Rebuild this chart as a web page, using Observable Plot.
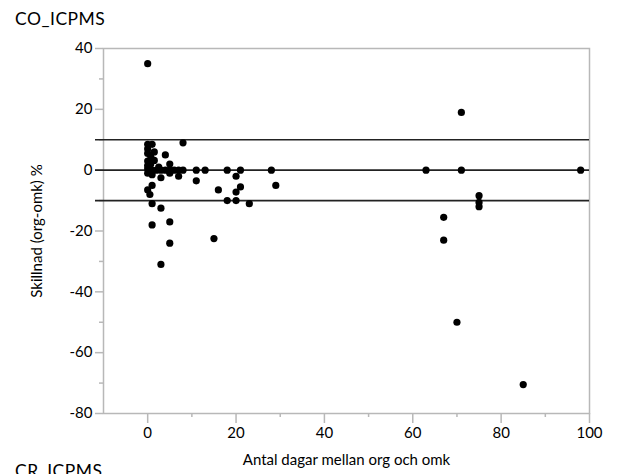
<!DOCTYPE html>
<html>
<head>
<meta charset="utf-8">
<script src="https://cdn.jsdelivr.net/npm/d3@7"></script>
<script src="https://cdn.jsdelivr.net/npm/@observablehq/plot@0.6"></script>
<style>
  html, body { margin: 0; padding: 0; background: #fff; overflow: hidden; }
  body { width: 624px; height: 474px; position: relative; font-family: Lato, "Open Sans", sans-serif; }
  .title { position: absolute; left: 15px; font-size: 17.5px; letter-spacing: 0.5px; color: #000; line-height: 1.2; }
  #t1 { top: 8px; }
  #t2 { top: 460px; }
  #chart { position: absolute; left: 0; top: 30px; }
</style>
</head>
<body>
<div class="title" id="t1">CO_ICPMS</div>
<div id="chart"></div>
<div class="title" id="t2">CR_ICPMS</div>
<script>
const days = [0, 8, 0, 1, 0, 1.5, 0, 4, 0.7, 0, 1.5, 0.7, 2.5, 5, 0, 0,
  1, 2, 3, 4, 5, 6, 7, 8, 11, 13, 18, 21, 28,
  0, 1, 3, 7, 5, 11, 20, 29, 16, 21, 20, 0, 0.5, 1,
  18, 20, 23, 1, 3, 1, 5, 15, 5, 3,
  63, 71, 71, 98, 75, 75, 75, 67, 67, 70, 85];
const diffs = [35, 9, 8.5, 8.5, 7, 6, 5.5, 5, 4.5, 3, 3.2, 2, 1, 2, 0.5, 1.5,
  0, 0, 0, 0, 0, 0, 0, 0, 0, 0, 0, 0, 0,
  -1, -1.5, -2.5, -2, -1, -3.5, -2, -5, -6.5, -5.5, -7.2, -6.5, -8, -5,
  -10, -10, -11, -11, -12.5, -18, -17, -22.5, -24, -31,
  0, 19, 0, 0, -8.4, -10.6, -12, -15.5, -23, -50, -70.5];
const limits = [10, 0, -10];
const xTicks = [0, 20, 40, 60, 80, 100];
const xMinor = [10, 30, 50, 70, 90];
const yTicks = [40, 20, 0, -20, -40, -60, -80];
const yMinor = [30, 10, -10, -30, -50, -70];
const xLabel = "Antal dagar mellan org och omk";
const yLabel = "Skillnad (org-omk) %";

const data = days.map((d, i) => ({days: d, diff: diffs[i]}));
const fmt = d => String(d);

const chart = Plot.plot({
  width: 624,
  height: 444,
  marginTop: 18,
  marginBottom: 61,
  marginLeft: 103,
  marginRight: 35,
  style: {fontFamily: "Lato, 'Open Sans', sans-serif", fontSize: "15px", color: "#000", background: "#fff"},
  x: {domain: [-10, 100]},
  y: {domain: [-80, 40]},
  marks: [
    Plot.frame({stroke: "#b8b8b8", strokeWidth: 1.5}),
    Plot.axisX(xTicks, {tickSize: 10, tickPadding: 4, stroke: "#b8b8b8", strokeWidth: 1.5, fill: "#000", tickFormat: fmt,
      label: xLabel, labelAnchor: "center", labelArrow: "none", labelOffset: 51}),
    Plot.axisX(xMinor, {tickSize: 4, stroke: "#b8b8b8", strokeWidth: 1.5, text: null, label: null}),
    Plot.axisY(yTicks, {tickSize: 8, tickPadding: 3, stroke: "#b8b8b8", strokeWidth: 1.5, fill: "#000", tickFormat: fmt,
      label: yLabel, labelAnchor: "center", labelArrow: "none", labelOffset: 72}),
    Plot.axisY(yMinor, {tickSize: 4, stroke: "#b8b8b8", strokeWidth: 1.5, text: null, label: null}),
    Plot.ruleY(limits, {stroke: "#222", strokeWidth: 1.6, insetLeft: -8}),
    Plot.dot(data, {x: "days", y: "diff", r: 3.6, fill: "#000", stroke: "none"})
  ]
});
document.getElementById("chart").appendChild(chart);
</script>
</body>
</html>
